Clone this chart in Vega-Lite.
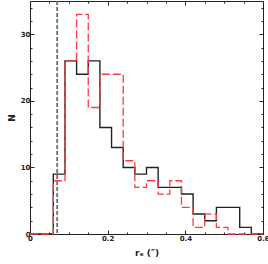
{
  "$schema": "https://vega.github.io/schema/vega-lite/v6.json",
  "width": 233,
  "height": 233,
  "autosize": "none",
  "padding": {"left": 30, "top": 1, "right": 5, "bottom": 30},
  "background": "white",
  "config": {
    "view": {"stroke": "#222", "strokeWidth": 1},
    "axis": {"grid": false, "domain": false, "tickColor": "#222", "labelFont": "DejaVu Sans", "labelFontSize": 7, "labelFontWeight": "bold", "labelColor": "#222", "titleFont": "DejaVu Sans", "titleFontSize": 9, "titleFontWeight": "bold", "titleColor": "#222"}
  },
  "datasets": {
    "black": [
      {"r": 0.0, "n": 0}, {"r": 0.03, "n": 0}, {"r": 0.06, "n": 9}, {"r": 0.09, "n": 26},
      {"r": 0.12, "n": 24}, {"r": 0.15, "n": 26}, {"r": 0.18, "n": 16}, {"r": 0.21, "n": 13},
      {"r": 0.24, "n": 10}, {"r": 0.27, "n": 9}, {"r": 0.30, "n": 10}, {"r": 0.33, "n": 7},
      {"r": 0.36, "n": 7}, {"r": 0.39, "n": 6}, {"r": 0.42, "n": 3}, {"r": 0.45, "n": 2},
      {"r": 0.48, "n": 4}, {"r": 0.51, "n": 4}, {"r": 0.54, "n": 1}, {"r": 0.57, "n": 0},
      {"r": 0.60, "n": 0}
    ],
    "red": [
      {"r": 0.0, "n": 0}, {"r": 0.03, "n": 0}, {"r": 0.06, "n": 8}, {"r": 0.09, "n": 26},
      {"r": 0.12, "n": 33}, {"r": 0.15, "n": 19}, {"r": 0.18, "n": 24}, {"r": 0.21, "n": 24},
      {"r": 0.24, "n": 11}, {"r": 0.27, "n": 7}, {"r": 0.30, "n": 8}, {"r": 0.33, "n": 6},
      {"r": 0.36, "n": 8}, {"r": 0.39, "n": 4}, {"r": 0.42, "n": 1}, {"r": 0.45, "n": 3},
      {"r": 0.48, "n": 1}, {"r": 0.51, "n": 0}, {"r": 0.54, "n": 0}, {"r": 0.57, "n": 0},
      {"r": 0.60, "n": 0}
    ],
    "limit": [{"r": 0.07}]
  },
  "layer": [
    {
      "data": {"name": "black"},
      "mark": {"type": "line", "interpolate": "step-after", "color": "#222", "strokeWidth": 1.4},
      "encoding": {
        "x": {"field": "r", "type": "quantitative", "scale": {"domain": [0, 0.6], "nice": false},
          "axis": {"orient": "bottom", "title": "rₑ (″)", "values": [0,0.05,0.1,0.15,0.2,0.25,0.3,0.35,0.4,0.45,0.5,0.55,0.6],
            "labelExpr": "datum.value == 0 ? '0' : (abs(round(datum.value/0.2)*0.2 - datum.value) < 1e-6 ? format(datum.value, '.1f') : '')",
            "tickSize": {"condition": {"test": "abs(round(datum.value/0.2)*0.2 - datum.value) < 1e-6", "value": -4}, "value": -2},
            "labelPadding": 4, "titlePadding": 5, "labelFlush": false, "labelOverlap": false}},
        "y": {"field": "n", "type": "quantitative", "scale": {"domain": [0, 35], "nice": false},
          "axis": {"orient": "left", "title": "N", "values": [0,2,4,6,8,10,12,14,16,18,20,22,24,26,28,30,32,34],
            "labelExpr": "datum.value % 10 == 0 ? datum.label : ''",
            "tickSize": {"condition": {"test": "datum.value % 10 == 0", "value": -4}, "value": -2},
            "labelPadding": 4, "titlePadding": 4, "labelFlush": false, "labelOverlap": false}}
      }
    },
    {
      "data": {"name": "red"},
      "mark": {"type": "line", "interpolate": "step-after", "color": "#ff3b3b", "strokeWidth": 1.3, "strokeDash": [8, 3]},
      "encoding": {
        "x": {"field": "r", "type": "quantitative",
          "axis": {"orient": "top", "title": null, "labels": false, "values": [0,0.05,0.1,0.15,0.2,0.25,0.3,0.35,0.4,0.45,0.5,0.55,0.6],
            "tickSize": {"condition": {"test": "abs(round(datum.value/0.2)*0.2 - datum.value) < 1e-6", "value": -4}, "value": -2}}},
        "y": {"field": "n", "type": "quantitative",
          "axis": {"orient": "right", "title": null, "labels": false, "values": [0,2,4,6,8,10,12,14,16,18,20,22,24,26,28,30,32,34],
            "tickSize": {"condition": {"test": "datum.value % 10 == 0", "value": -4}, "value": -2}}}
      }
    },
    {
      "data": {"name": "limit"},
      "mark": {"type": "rule", "color": "#707070", "strokeWidth": 1.8, "strokeDash": [4, 2]},
      "encoding": {"x": {"field": "r", "type": "quantitative", "axis": null}}
    }
  ],
  "resolve": {"axis": {"x": "independent", "y": "independent"}}
}
